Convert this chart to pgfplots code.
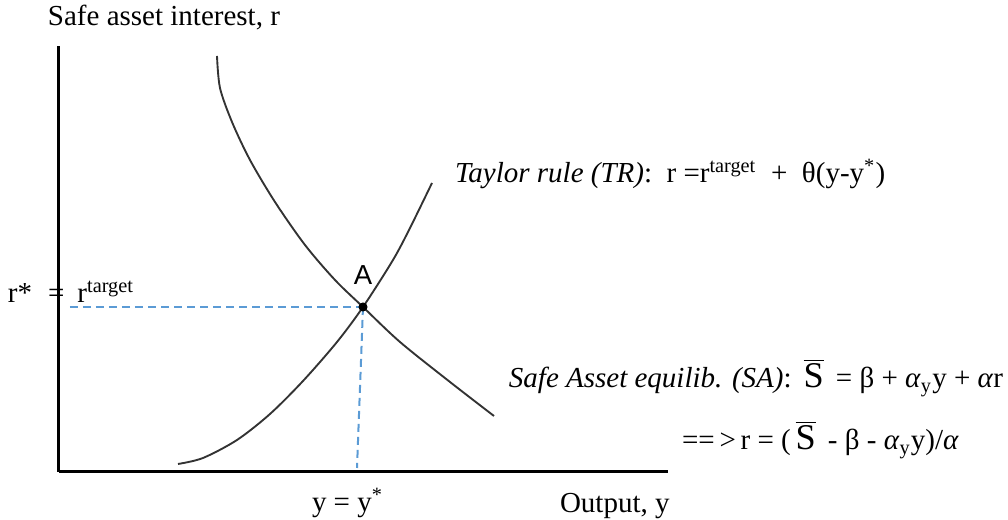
\documentclass[border=0pt]{standalone}
\usepackage{fontspec}
\setmainfont{Liberation Serif}
\newfontfamily\arialfont{Liberation Sans}
\usepackage{pgfplots}
\pgfplotsset{compat=1.18}
\definecolor{curve}{HTML}{333333}
\definecolor{dashblue}{HTML}{5B9BD5}
\newcommand{\Sbar}{\,$\overline{\mbox{\fontsize{14.5}{14}\selectfont S}}$\,}
\tikzset{lbl/.style={font=\fontsize{11.6}{14}\selectfont, inner sep=0pt, outer sep=0pt}}

\begin{document}
\begin{tikzpicture}
\begin{axis}[
    x=0.4pt, y=0.4pt,
    xmin=59, xmax=668, ymin=46, ymax=472,
    axis lines*=left,
    axis line style={line width=1.2pt, black},
    xtick=\empty, ytick=\empty,
    clip=false,
]
% page frame, in pixels of the reference
\path (axis cs:0,0) rectangle (axis cs:1008,518);

% guide lines to point A
\addplot[dashblue, line width=0.8pt, dash pattern=on 3.2pt off 2pt] coordinates {(70,211) (363,211)};
\addplot[dashblue, line width=0.8pt, dash pattern=on 3.2pt off 2pt] coordinates {(363,211) (357,50)};

% Taylor rule
\addplot[curve, line width=0.75pt, smooth] coordinates {
    (178,54) (203,60) (237,78) (270,104) (303,137) (337,176) (363,211) (393,258) (410,290) (432,335)
};
% Safe asset equilibrium
\addplot[curve, line width=0.75pt, smooth] coordinates {
    (217,462) (220,430) (232,396) (250,358) (275,316) (305,273) (335,238) (363,211) (400,176) (450,136) (494,102)
};
% equilibrium A
\addplot[only marks, mark=*, mark size=1.6pt, black] coordinates {(363,211)};

\node[lbl, anchor=center, font=\arialfont\fontsize{11}{12}\selectfont] at (axis cs:363,243) {A};
\node[lbl, anchor=base west] at (axis cs:48,492) {Safe asset interest, r};
\node[lbl, anchor=base west] at (axis cs:8,215) {r*\hspace{0.55em}=\hspace{0.45em}r\textsuperscript{target}};
\node[lbl, anchor=base west] at (axis cs:312,6) {y = y\textsuperscript{*}};
\node[lbl, anchor=base west] at (axis cs:560,5) {Output, y};
\node[lbl, anchor=base west] at (axis cs:455,335) {\textit{Taylor rule (TR)}:\ \ r =r\textsuperscript{target}\ \ +\ \ θ(y-y\textsuperscript{*})};
\node[lbl, anchor=base east] at (axis cs:1003,130) {\textit{Safe Asset equilib. (SA)}: \Sbar{} = β + \textit{α}\textsubscript{y}y + \textit{α}r};
\node[lbl, anchor=base west] at (axis cs:682,68) {==\,>\,r = (\Sbar{}\ - β - \textit{α}\textsubscript{y}y)/\textit{α}};
\end{axis}
\end{tikzpicture}
\end{document}
